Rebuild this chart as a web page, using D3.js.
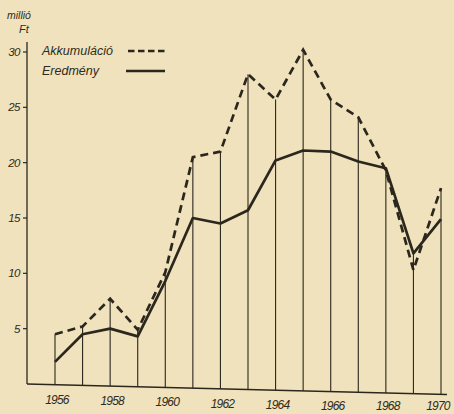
<!DOCTYPE html>
<html><head><meta charset="utf-8">
<script src="https://cdn.jsdelivr.net/npm/d3@7"></script>
<style>
html,body{margin:0;padding:0;background:#f0e2bd;}
svg{display:block;}
text{font-family:"Liberation Sans","DejaVu Sans",sans-serif;font-style:italic;fill:#2f2b20;}
</style></head>
<body>
<svg id="c" width="454" height="414"></svg>
<script>
const years = [1956,1957,1958,1959,1960,1961,1962,1963,1964,1965,1966,1967,1968,1969,1970];
const akkumulacio = [4.5,5.2,7.7,4.9,10.1,20.5,21.0,28.0,25.7,30.2,25.7,24.1,19.3,10.3,17.7];
const eredmeny = [2.0,4.5,5.0,4.3,9.3,15.0,14.5,15.7,20.2,21.1,21.0,20.1,19.5,11.8,14.9];
const yTicks = [5,10,15,20,25,30];
const xTickLabels = [1956,1958,1960,1962,1964,1966,1968,1970];
const seriesNames = ["Akkumuláció","Eredmény"];

const ink = "#2b271d";
const svg = d3.select("#c");
const x = d3.scaleLinear().domain([1956,1970]).range([55,441]);
const y = d3.scaleLinear().domain([0,30]).range([384,52]);
const x0 = 27;
const slope = 0.025; // scanned baseline drifts downward to the right
const baseY = px => y(0) + (px - x0) * slope;

// y axis
svg.append("line").attr("x1",x0).attr("x2",x0).attr("y1",42).attr("y2",baseY(x0))
  .attr("stroke",ink).attr("stroke-width",1.3);
const yt = svg.append("g");
yt.selectAll("line").data(yTicks).join("line")
  .attr("x1",x0-4).attr("x2",x0).attr("y1",d=>y(d)).attr("y2",d=>y(d))
  .attr("stroke",ink).attr("stroke-width",1.2);
yt.selectAll("text").data(yTicks).join("text")
  .attr("x",x0-7).attr("y",d=>y(d)+4).attr("text-anchor","end")
  .attr("font-size",11.5).attr("letter-spacing",-0.5).text(d=>d);

// baseline
svg.append("line").attr("x1",x0).attr("x2",447).attr("y1",baseY(x0)).attr("y2",baseY(447))
  .attr("stroke",ink).attr("stroke-width",1.3);

// unit label
svg.append("text").attr("x",7).attr("y",19).attr("font-size",10.5).text("millió");
svg.append("text").attr("x",19).attr("y",33).attr("font-size",11).text("Ft");

// verticals
svg.append("g").selectAll("line").data(years).join("line")
  .attr("x1",d=>x(d)).attr("x2",d=>x(d))
  .attr("y1",(d,i)=>baseY(x(d)))
  .attr("y2",(d,i)=>y(Math.max(akkumulacio[i],eredmeny[i])))
  .attr("stroke",ink).attr("stroke-width",1.1);

// x labels
svg.append("g").selectAll("text").data(xTickLabels).join("text")
  .attr("x",d=>Math.min(x(d)+2, 438)).attr("y",d=>Math.min(baseY(x(d))+19, 410))
  .attr("text-anchor","middle").attr("font-size",12)
  .attr("letter-spacing",-0.8)
  .text(d=>d);

// lines
const lineGen = arr => d3.line().x((d,i)=>x(years[i])).y(d=>y(d))(arr);
svg.append("path").attr("d",lineGen(eredmeny)).attr("fill","none")
  .attr("stroke",ink).attr("stroke-width",2.7).attr("stroke-linejoin","round");
svg.append("path").attr("d",lineGen(akkumulacio)).attr("fill","none")
  .attr("stroke",ink).attr("stroke-width",2.7).attr("stroke-dasharray","8,5");

// legend
const lg = svg.append("g");
lg.append("text").attr("x",42).attr("y",55).attr("font-size",12.5).text(seriesNames[0]);
lg.append("line").attr("x1",128).attr("x2",165).attr("y1",51).attr("y2",51)
  .attr("stroke",ink).attr("stroke-width",2.6).attr("stroke-dasharray","6.5,3.5");
lg.append("text").attr("x",42).attr("y",75).attr("font-size",12.5).text(seriesNames[1]);
lg.append("line").attr("x1",126).attr("x2",165).attr("y1",71).attr("y2",71)
  .attr("stroke",ink).attr("stroke-width",2.4);
</script>
</body></html>
